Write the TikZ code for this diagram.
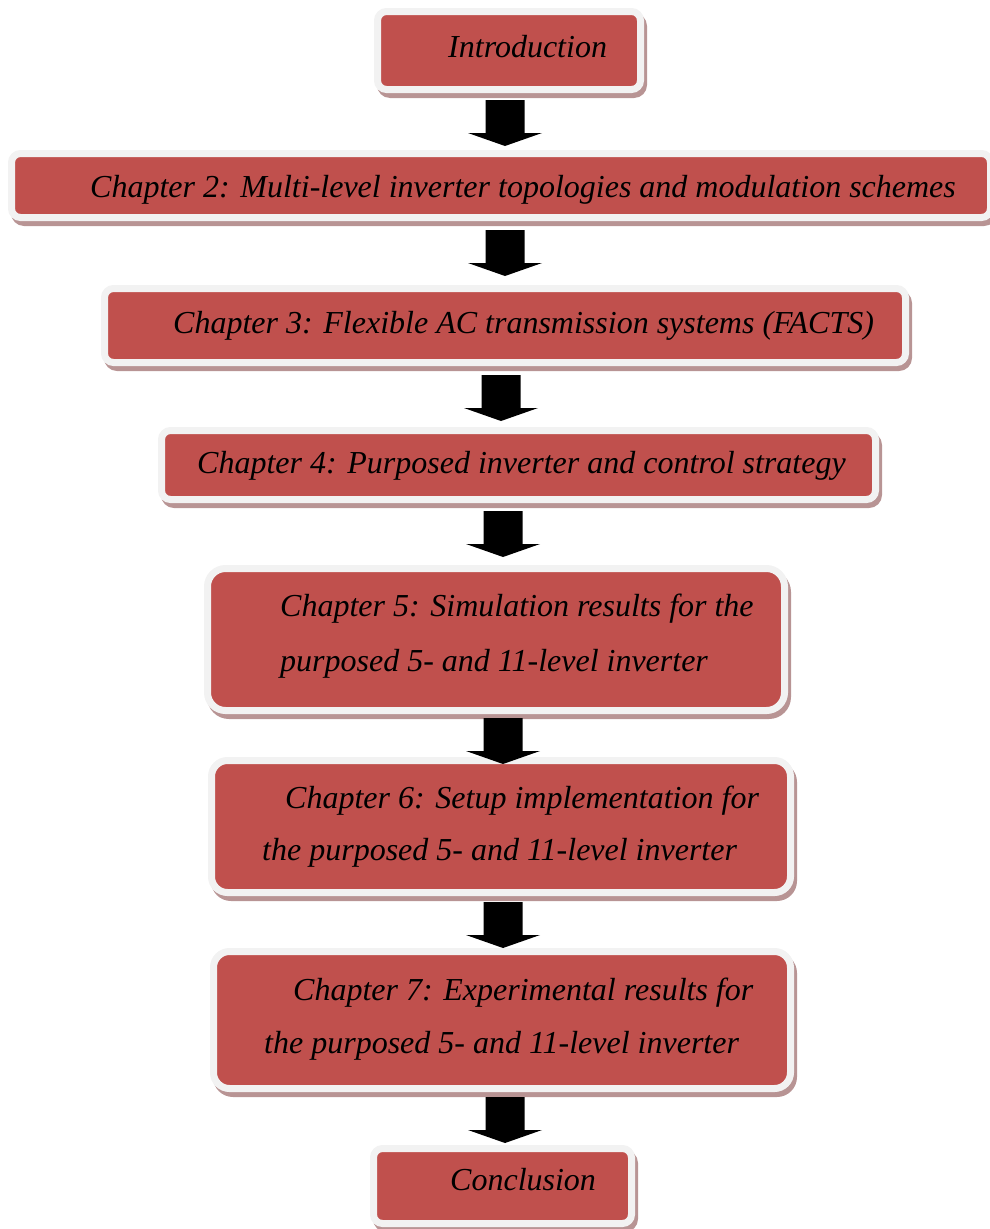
\documentclass[tikz,border=0pt]{standalone}
\usepackage{fontspec}
\setmainfont{Liberation Serif}
\usetikzlibrary{calc}
\definecolor{boxred}{HTML}{C0504D}
\definecolor{rimc}{HTML}{F2F2F2}
\definecolor{shadowc}{RGB}{184,148,148}
\tikzset{
  chbox/.style={fill=boxred, draw=rimc, line width=7pt, inner sep=0pt, outer sep=0pt},
  chtext/.style={anchor=base west, inner sep=0pt, font=\fontsize{32}{38}\selectfont\itshape},
  blockarrow/.style={fill=black}
}
\newcommand\chapbox[6]{%
  \fill[shadowc, rounded corners={(#6+4)*1pt}] ({#2-7+3},{#3-7+5}) rectangle ({#4+7+3},{#5+7+5});
  \node[chbox, rounded corners={#6*1pt}, minimum width={(#4-#2+7)*1pt}, minimum height={(#5-#3+7)*1pt}] (#1) at ({(#2+#4)/2},{(#3+#5)/2}) {};
}
\newcommand\blockdown[3]{%
  \coordinate (#1) at (#3,#2);
  \fill[blockarrow] ($(#1)+(-19.5,0)$) -- ($(#1)+(19.5,0)$) -- ($(#1)+(19.5,33)$) -- ($(#1)+(37,33)$) -- ($(#1)+(0,46)$) -- ($(#1)+(-37,33)$) -- ($(#1)+(-19.5,33)$) -- cycle;
}
\begin{document}
\begin{tikzpicture}[x=1pt,y=-1pt]
\useasboundingbox (0,0) rectangle (990,1229);
% boxes
\chapbox{b1}{381}{15}{637}{86}{9}
\chapbox{b2}{15}{157}{987}{214}{9}
\chapbox{b3}{108}{292}{902}{359}{9}
\chapbox{b4}{165}{434}{872}{496}{9}
\chapbox{b5}{211}{572}{781}{707}{18}
\chapbox{b6}{215}{764}{787}{889}{16}
\chapbox{b7}{217}{955}{787}{1085}{16}
\chapbox{b8}{377}{1152}{628}{1220}{9}
% texts
\node[chtext] (t1) at (448,57) {Introduction};
\node[chtext] (t2) at (90,197) {Chapter 2: Multi-level inverter topologies and modulation schemes};
\node[chtext] (t3) at (173,333) {Chapter 3: Flexible AC transmission systems (FACTS)};
\node[chtext] (t4) at (197,473) {Chapter 4: Purposed inverter and control strategy};
\node[chtext] (t5a) at (280,616) {Chapter 5: Simulation results for the};
\node[chtext] (t5b) at (280,671) {purposed 5- and 11-level inverter};
\node[chtext] (t6a) at (285,808) {Chapter 6: Setup implementation for};
\node[chtext] (t6b) at (262,860) {the purposed 5- and 11-level inverter};
\node[chtext] (t7a) at (293,1000) {Chapter 7: Experimental results for};
\node[chtext] (t7b) at (264,1053) {the purposed 5- and 11-level inverter};
\node[chtext] (t8) at (450,1190) {Conclusion};
% arrows
\blockdown{a1}{100}{505}
\blockdown{a2}{230}{505}
\blockdown{a3}{375}{501}
\blockdown{a4}{511}{503}
\blockdown{a5}{718}{503}
\blockdown{a6}{902}{503}
\blockdown{a7}{1097}{505}
\end{tikzpicture}
\end{document}
